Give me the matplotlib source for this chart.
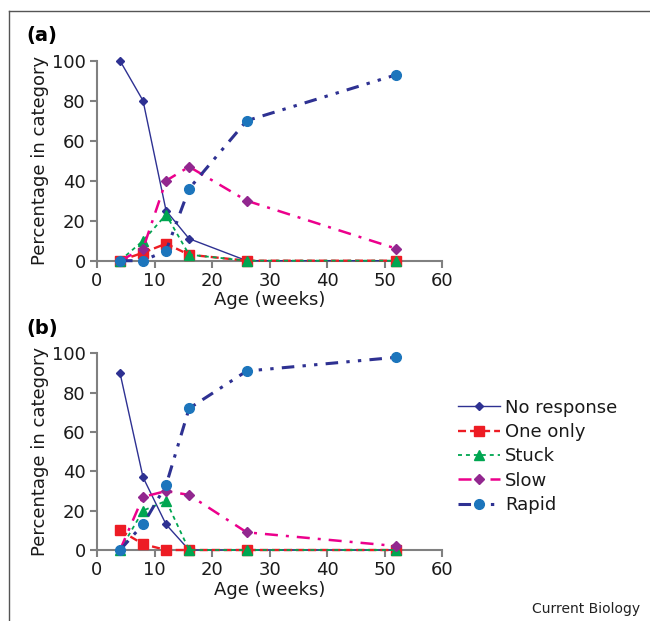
"""Response categories by age, two panels (a) and (b)."""
import matplotlib

matplotlib.use("Agg")
import matplotlib.pyplot as plt
from matplotlib.lines import Line2D

plt.rcParams["font.family"] = ["DejaVu Sans"]

AGE_WEEKS = [4, 8, 12, 16, 26, 52]
CATEGORIES = ["No response", "One only", "Stuck", "Slow", "Rapid"]

# panel (a)
A_NO_RESPONSE = [100, 80, 25, 11, 0, 0]
A_ONE_ONLY = [0, 4, 8.5, 3, 0, 0]
A_STUCK = [0, 10, 23, 3, 0, 0]
A_SLOW = [0, 6, 40, 47, 30, 6]
A_RAPID = [0, 0, 5, 36, 70, 93]

# panel (b)
B_NO_RESPONSE = [90, 37, 13, 0, 0, 0]
B_ONE_ONLY = [10, 3, 0, 0, 0, 0]
B_STUCK = [0, 20, 25, 0, 0, 0]
B_SLOW = [0, 27, 30, 28, 9, 2]
B_RAPID = [0, 13, 33, 72, 91, 98]

X_TICKS = [0, 10, 20, 30, 40, 50, 60]
Y_TICKS = [0, 20, 40, 60, 80, 100]

NAVY = "#2e3192"
STYLES = {
    "No response": dict(color=NAVY, lw=1.0, ls="-", marker="D", ms=4.5, mfc=NAVY, mec=NAVY),
    "One only": dict(color="#ed1c24", lw=1.7, ls=(0, (3.4, 1.7)), marker="s", ms=7, mfc="#ed1c24", mec="#ed1c24"),
    "Stuck": dict(color="#00a651", lw=1.3, ls=(0, (2.2, 2.2)), marker="^", ms=7.5, mfc="#00a651", mec="#00a651"),
    "Slow": dict(color="#ec008c", lw=1.8, ls=(0, (5.2, 3.2, 1.2, 3.2)), marker="D", ms=5, mfc="#92278f", mec="#92278f"),
    "Rapid": dict(color=NAVY, lw=2.2, ls=(0, (4.1, 2.7, 1.1, 2.7, 1.1, 2.7)), marker="o", ms=7, mfc="#1c75bc", mec="#1c75bc"),
}

SPINE = "#808080"


def draw_panel(ax, series, tag):
    for name, values in zip(CATEGORIES, series):
        ax.plot(AGE_WEEKS, values, label=name, clip_on=False, zorder=3, **STYLES[name])
    ax.set_xlim(0, 60)
    ax.set_ylim(0, 100)
    ax.set_xticks(X_TICKS)
    ax.set_yticks(Y_TICKS)
    for side in ("top", "right"):
        ax.spines[side].set_visible(False)
    for side in ("left", "bottom"):
        ax.spines[side].set_color(SPINE)
        ax.spines[side].set_linewidth(1.5)
    ax.tick_params(direction="out", length=5, width=1.5, color=SPINE, labelsize=13, pad=3,
                   labelcolor="#1a1a1a")
    ax.set_xlabel("Age (weeks)", fontsize=13, labelpad=1, color="#1a1a1a")
    ax.set_ylabel("Percentage in category", fontsize=13, labelpad=2, color="#1a1a1a")
    ax.text(-0.203, 1.125, tag, transform=ax.transAxes, fontsize=14, fontweight="bold", va="center")


fig = plt.figure(figsize=(6.5, 6.21), dpi=100)
ax_a = fig.add_axes([0.1492, 0.5802, 0.5315, 0.3220])
ax_b = fig.add_axes([0.1492, 0.1143, 0.5315, 0.3167])

draw_panel(ax_a, [A_NO_RESPONSE, A_ONE_ONLY, A_STUCK, A_SLOW, A_RAPID], "(a)")
draw_panel(ax_b, [B_NO_RESPONSE, B_ONE_ONLY, B_STUCK, B_SLOW, B_RAPID], "(b)")

handles, labels = ax_b.get_legend_handles_labels()
fig.legend(handles, labels, loc="upper left", bbox_to_anchor=(0.7046, 0.358),
           frameon=False, fontsize=13, handlelength=2.3, handletextpad=0.3,
           labelspacing=0.35, borderpad=0, borderaxespad=0, labelcolor="#1a1a1a")

# frame lines along top and left edge
fig.add_artist(Line2D([0.0138, 1.0], [0.983, 0.983], color="#555555", lw=1.0))
fig.add_artist(Line2D([0.0138, 0.0138], [0.0, 0.983], color="#555555", lw=1.0))

fig.text(0.985, 0.02, "Current Biology", ha="right", va="center", fontsize=10, color="#222222")

fig.savefig("out.png", dpi=100)
